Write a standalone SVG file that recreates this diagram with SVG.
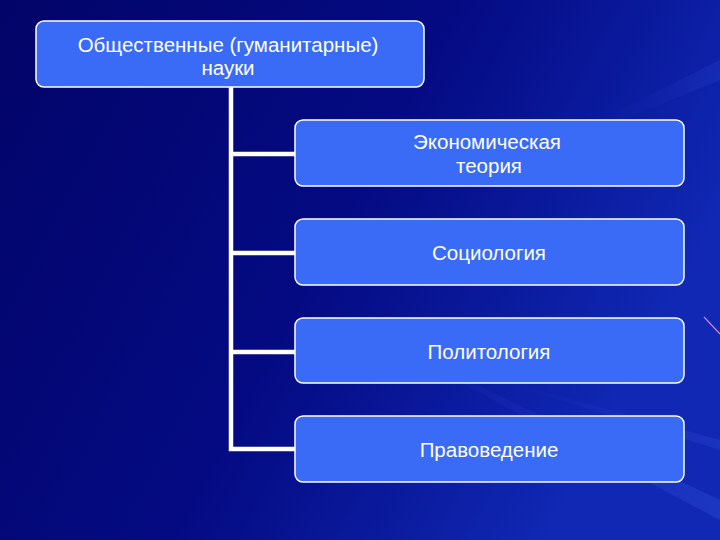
<svg xmlns="http://www.w3.org/2000/svg" width="720" height="540" viewBox="0 0 720 540">
<defs>
<linearGradient id="bg" x1="0" y1="0" x2="1" y2="0.4">
<stop offset="0" stop-color="#020468"/>
<stop offset="0.55" stop-color="#040a82"/>
<stop offset="1" stop-color="#1028b4"/>
</linearGradient>
<linearGradient id="streak" x1="0" y1="0" x2="1" y2="0">
<stop offset="0" stop-color="#4060ff" stop-opacity="0"/>
<stop offset="1" stop-color="#5a78ff" stop-opacity="0.35"/>
</linearGradient>
<style>
.box{fill:#3a6bf6;stroke:#ffffff;stroke-width:1.5}
.t{font-family:"Liberation Sans",Arial,sans-serif;font-size:20.5px;fill:#ffffff;text-anchor:middle}
.c{stroke:#ffffff;stroke-width:4.5;fill:none}
</style>
</defs>
<rect width="720" height="540" fill="url(#bg)"/>
<polygon points="360,330 720,500 720,520 380,340" fill="url(#streak)" opacity="0.5"/>
<polygon points="500,380 720,440 720,450 510,384" fill="url(#streak)" opacity="0.4"/>
<polygon points="600,120 720,60 720,80 610,125" fill="url(#streak)" opacity="0.3"/>
<line x1="704" y1="317" x2="720" y2="334" stroke="#d080e0" stroke-width="1.2"/>
<g id="connectors">
<polyline class="c" points="231,87 231,449 296,449"/>
<line class="c" x1="231" y1="154" x2="296" y2="154"/>
<line class="c" x1="231" y1="253" x2="296" y2="253"/>
<line class="c" x1="231" y1="352" x2="296" y2="352"/>
</g>
<g id="root">
<rect class="box" x="36" y="21" width="388" height="66" rx="8"/>
<text class="t" x="228" y="52">Общественные (гуманитарные)</text>
<text class="t" x="228" y="75">науки</text>
</g>
<g id="econ">
<rect class="box" x="295" y="120" width="389" height="66" rx="8"/>
<text class="t" x="487" y="149">Экономическая</text>
<text class="t" x="489" y="173">теория</text>
</g>
<g id="socio">
<rect class="box" x="295" y="219" width="389" height="66" rx="8"/>
<text class="t" x="489" y="260">Социология</text>
</g>
<g id="polit">
<rect class="box" x="295" y="318" width="389" height="65" rx="8"/>
<text class="t" x="489" y="359">Политология</text>
</g>
<g id="pravo">
<rect class="box" x="295" y="416" width="389" height="66" rx="8"/>
<text class="t" x="489" y="457">Правоведение</text>
</g>
</svg>
